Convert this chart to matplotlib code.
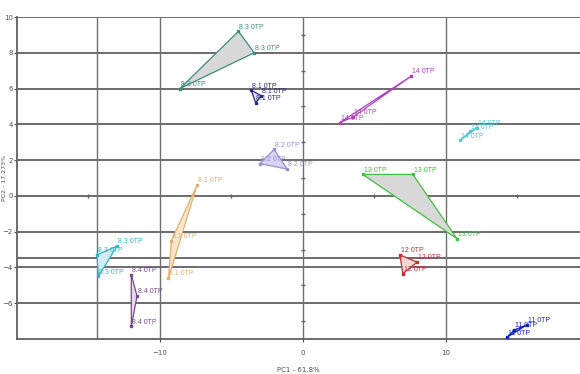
import numpy as np
import matplotlib
matplotlib.use("Agg")
import matplotlib.pyplot as plt

# PCA scores, three replicates per group
names = ["8.3 0TP", "8.1 0TP", "8.2 0TP", "8.1 0TP", "8.3 0TP", "8.4 0TP",
         "14 0TP", "14 0TP", "13 0TP", "12 0TP", "11 0TP"]
pc1 = [[-8.6, -4.5, -3.4],
       [-3.6, -3.3, -2.9],
       [-3.0, -2.0, -1.1],
       [-7.4, -9.2, -9.4],
       [-14.4, -13.0, -14.3],
       [-12.0, -11.6, -12.0],
       [2.6, 7.6, 3.5],
       [11.0, 11.7, 12.2],
       [4.2, 7.7, 10.8],
       [6.8, 8.0, 7.0],
       [14.3, 15.7, 14.8]]
pc2 = [[6.0, 9.2, 8.0],
       [5.9, 5.2, 5.6],
       [1.8, 2.6, 1.5],
       [0.6, -2.5, -4.6],
       [-3.3, -2.8, -4.5],
       [-4.4, -5.6, -7.3],
       [4.1, 6.7, 4.4],
       [3.1, 3.6, 3.8],
       [1.2, 1.2, -2.4],
       [-3.3, -3.7, -4.35],
       [-7.9, -7.2, -7.5]]
colors = ["#3c8c7c", "#2a2a80", "#9a8fd0", "#e0b070", "#30b8c8", "#7a4a90",
          "#b040c0", "#50c8d8", "#40c040", "#c03030", "#1020c0"]
fills = ["#d8d8d8", "#e0e0f0", "#d8d4f0", "#f6e6cc", "#d0eef2", "#e6d8ee",
         "none", "none", "#d8d8d8", "#f0d8d8", "#d0d8f4"]

hlines = [10, 8, 6, 4, 2, 0, -2, -3.45, -4, -6]
vlines = [-14.4, -10, 0, 10]

fig = plt.figure(figsize=(5.8, 3.74), dpi=100)
ax = fig.add_axes([17/580, 1-339/374, 563/580, 322/374])
ax.set_xlim(-20, 19.4)
ax.set_ylim(-8, 10)

for h in hlines:
    ax.axhline(h, color="#606060", lw=1.3, zorder=1)
for v in vlines:
    ax.axvline(v, color="#707070", lw=1.0, zorder=1)

# small ticks along the origin lines
ax.plot([-15, -5, 5, 15], [0]*4, "|", color="#606060", ms=3, zorder=2)
ax.plot([0]*9, [9, 7, 5, 3, 1, -1, -3, -5, -7], "_", color="#606060", ms=3, zorder=2)

for n, xs, ys, c, f in zip(names, pc1, pc2, colors, fills):
    if f != "none":
        ax.fill(xs, ys, facecolor=f, edgecolor=c, lw=0.9, zorder=3)
    else:
        ax.plot(xs + xs[:1], ys + ys[:1], color=c, lw=0.9, zorder=3)
    ax.plot(xs, ys, "s", color=c, ms=2, zorder=4)
    for x, y in zip(xs, ys):
        ax.text(x + 0.05, y + 0.15, n, color=c, fontsize=5, zorder=5,
                family="Liberation Sans")

for s in ["top", "right"]:
    ax.spines[s].set_visible(False)
for s in ["left", "bottom"]:
    ax.spines[s].set_color("#606060")
    ax.spines[s].set_linewidth(1.3)

ax.set_xticks([-10, 0, 10])
ax.set_yticks([10, 8, 6, 4, 2, 0, -2, -4, -6])
ax.tick_params(length=2, labelsize=5, colors="#505050")
ax.tick_params(axis="x", pad=6)
ax.tick_params(axis="y", pad=1)
ax.set_xlabel("PC1 - 61.8%", fontsize=5, color="#505050", labelpad=8)
ax.set_ylabel("PC2 - 17.273%", fontsize=4.5, color="#505050")
ax.yaxis.set_label_coords(-0.0185, 0.5)

fig.savefig("out.png", dpi=100)
